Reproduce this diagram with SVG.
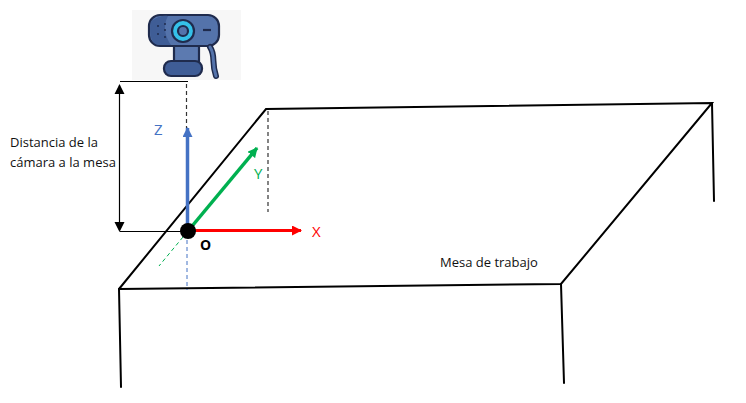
<svg xmlns="http://www.w3.org/2000/svg" width="746" height="403" viewBox="0 0 746 403">
<style>
text{font-family:"Open Sans","Liberation Sans",sans-serif}
.t{fill:none;stroke:#000;stroke-width:2;stroke-linecap:round}
.cam{stroke:#1f2b4d;stroke-width:2.2;stroke-linejoin:round}
</style>
<defs>
<marker id="mblue" markerUnits="userSpaceOnUse" markerWidth="10" markerHeight="10" refX="9" refY="5" orient="auto"><path d="M0 0L10 5L0 10Z" fill="#4472c4"/></marker>
<marker id="mgreen" markerUnits="userSpaceOnUse" markerWidth="10" markerHeight="10" refX="9" refY="5" orient="auto"><path d="M0 0L10 5L0 10Z" fill="#00b050"/></marker>
<marker id="mred" markerUnits="userSpaceOnUse" markerWidth="10" markerHeight="10" refX="9" refY="5" orient="auto"><path d="M0 0L10 5L0 10Z" fill="#f00"/></marker>
</defs>
<rect width="746" height="403" fill="#fff"/>
<g id="table">
<path class="t" d="M119 289L266 109L712 103L561 284L119 289"/>
<path class="t" d="M119 289L121 387M561 284L564 383M712 103L714 201"/>
</g>
<g id="camera">
<rect x="132" y="10" width="109" height="70" fill="#f7f7f7"/>
<rect x="174" y="44" width="25" height="18" fill="#5c7ab0" class="cam"/>
<rect x="149" y="15" width="70" height="31" rx="11" fill="#5473ab" class="cam"/>
<path d="M151 21C158 16 164 15 168 16C162 27 166 38 171 45H159C150 45 149 30 151 21Z" fill="#3f5d96"/>
<rect x="164" y="61" width="38" height="15" rx="7" fill="#3f5d96" class="cam"/>
<path d="M210 47C216 56 211 62 216 76" fill="none" stroke="#1f2b4d" stroke-width="6" stroke-linecap="round"/>
<path d="M210 47C216 56 211 62 216 76" fill="none" stroke="#5473ab" stroke-width="3" stroke-linecap="round"/>
<circle cx="183" cy="31" r="11" fill="#35c0e8" class="cam"/>
<circle cx="183" cy="31" r="5" fill="#5473ab" class="cam"/>
<path d="M203 30H211" stroke="#1f2b4d" stroke-width="2.200"/>
<path d="M158 26v.1M158 34v.1M165 24v.1M165 30v.1M165 37v.1" stroke="#1f2b4d" stroke-width="2" stroke-linecap="round"/>
</g>
<g id="connectors" fill="none">
<path d="M120 81.500H188" stroke="#000" stroke-width="1.200"/>
<path d="M119.500 85V229" stroke="#000" stroke-width="1.200"/>
<path d="M119.500 84L114.500 94H124.500ZM119.500 232L114.500 222H124.500Z" fill="#000"/>
<path d="M120 231.500H187" stroke="#000" stroke-width="1.200"/>
<path d="M186.500 84V128" stroke="#333" stroke-width="1.200" stroke-dasharray="4 3"/>
<path d="M268 111V212" stroke="#333" stroke-width="1.200" stroke-dasharray="4 3"/>
<path d="M187 240V290" stroke="#4472c4" stroke-width="1" stroke-dasharray="4 3"/>
<path d="M183 237L159 266" stroke="#00b050" stroke-width="1" stroke-dasharray="4 3"/>
<path d="M187.500 231V128" stroke="#4472c4" stroke-width="3.500" marker-end="url(#mblue)"/>
<path d="M188 231L257 148" stroke="#00b050" stroke-width="3.500" marker-end="url(#mgreen)"/>
<path d="M188 230.500H301" stroke="#f00" stroke-width="3" marker-end="url(#mred)"/>
</g>
<g id="origin"><circle cx="188" cy="231" r="8"/><text x="200" y="250" font-size="14" font-weight="700">O</text></g>
<g id="labels" font-size="13">
<text x="154" y="135" font-size="15" fill="#4472c4">Z</text>
<text x="254" y="179" font-size="15" fill="#00b050">Y</text>
<text x="312" y="237" font-size="15" fill="#f00">X</text>
<text x="10" y="147" fill="#111">Distancia de la</text>
<text x="10" y="167" fill="#111">cámara a la mesa</text>
<text x="440" y="267" fill="#111">Mesa de trabajo</text>
</g>
</svg>
